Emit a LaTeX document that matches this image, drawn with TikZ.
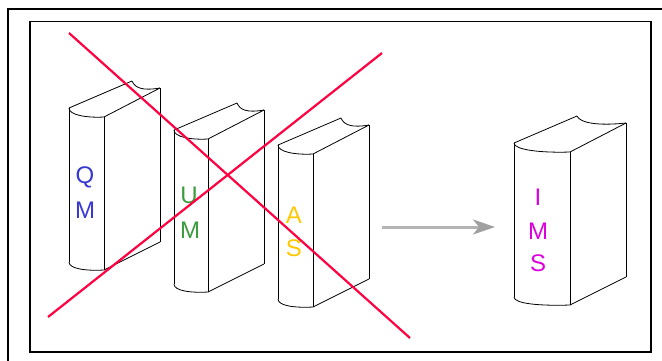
\documentclass[tikz,border=0pt]{standalone}
\usepackage{fontspec}
\setmainfont{Liberation Sans}
\usetikzlibrary{arrows.meta}
\definecolor{qmblue}{RGB}{55,55,210}
\definecolor{umgreen}{RGB}{60,155,60}
\definecolor{asgold}{RGB}{255,200,0}
\definecolor{imsmag}{RGB}{220,0,220}
\definecolor{cross}{RGB}{255,0,64}
\definecolor{arrowgray}{RGB}{180,180,180}
\definecolor{headgray}{RGB}{160,160,160}
\tikzset{
  frame/.style={draw=black, line width=1.6pt},
  bookline/.style={draw=black, line width=0.8pt, line join=round},
  letter/.style={font=\fontsize{24}{24}\selectfont, inner sep=0pt},
  crossline/.style={draw=cross, line width=2.2pt},
  flow/.style={draw=arrowgray, line width=3pt,
    -{Stealth[length=22pt,width=15pt,inset=6pt,fill=headgray,color=headgray]}},
  % a standing book; origin at the top-left corner of the spine
  pics/book/.style 2 args={code={
    \coordinate (-A) at (0,0);
    \coordinate (-B) at (#1,9);
    \coordinate (-C) at (#1+56,-20);
    \coordinate (-D) at (63,-27);
    \coordinate (-E) at (#1,#2+9);
    \coordinate (-F) at (0,#2+1);
    \coordinate (-G) at (#1+56,#2-19);
    \draw[bookline] (-A) .. controls (0,7) and (0.5*#1,10) .. (-B);
    \draw[bookline] (-F) .. controls (0,#2+8) and (0.5*#1,#2+10) .. (-E);
    \draw[bookline] (-A) -- (-F);
    \draw[bookline] (-B) -- (-E);
    \draw[bookline] (-A) -- (-D);
    \draw[bookline] (-D) .. controls (66,-20) and (#1+56-0.5*#1,-17) .. (-C);
    \draw[bookline] (-B) -- (-C);
    \draw[bookline] (-C) -- (-G);
    \draw[bookline] (-E) -- (-G);
  }}
}
\begin{document}
\begin{tikzpicture}[x=1pt,y=-1pt]
  \useasboundingbox (0,0) rectangle (662,360);
  \clip (0,0) rectangle (662,360);

  % frames
  \draw[frame] (8,9) rectangle (700,400);
  \draw[frame] (30,21.5) rectangle (651,352);

  % books
  \pic (qm)  at (69,108)  {book={35}{153}};
  \pic (um)  at (174,130) {book={34}{153}};
  \pic (as)  at (278,145) {book={35}{153}};
  \pic (ims) at (514,143) {book={56}{153}};

  % spine lettering
  \node[letter, text=qmblue]  (q1) at (85,177) {Q};
  \node[letter, text=qmblue]  (q2) at (85,210) {M};
  \node[letter, text=umgreen] (u1) at (189,195) {U};
  \node[letter, text=umgreen] (u2) at (190,230) {M};
  \node[letter, text=asgold]  (a1) at (294,215) {A};
  \node[letter, text=asgold]  (a2) at (294,248) {S};
  \node[letter, text=imsmag]  (i1) at (538,197) {I};
  \node[letter, text=imsmag]  (i2) at (538,231) {M};
  \node[letter, text=imsmag]  (i3) at (538,263) {S};

  % arrow towards the merged book
  \coordinate (arrS) at (382,227);
  \coordinate (arrE) at (495,227);
  \draw[flow] (arrS) -- (arrE);

  % crossing out the three source books
  \coordinate (x1a) at (69,33);
  \coordinate (x1b) at (410,338);
  \coordinate (x2a) at (48,317);
  \coordinate (x2b) at (382,53);
  \draw[crossline] (x1a) -- (x1b);
  \draw[crossline] (x2a) -- (x2b);
\end{tikzpicture}
\end{document}
